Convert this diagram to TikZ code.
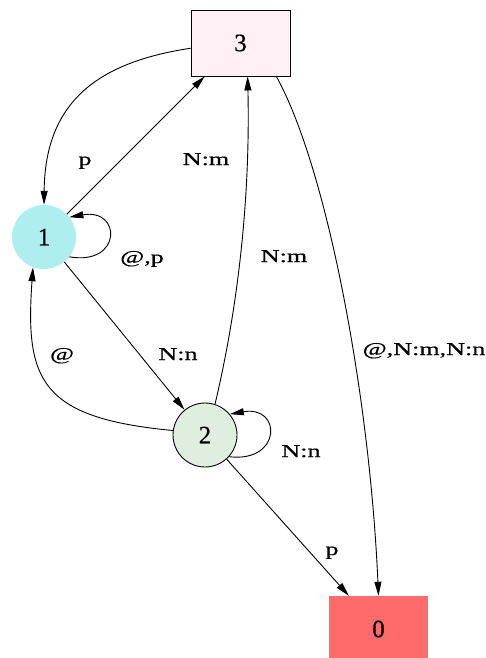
\documentclass[tikz,border=0pt]{standalone}
\usepackage{fontspec}
\setmainfont{Liberation Serif}
\newfontfamily\lblfont[FakeStretch=1.45,FakeBold=0.6]{Liberation Serif}
\newfontfamily\numfont[FakeBold=0.6]{Liberation Serif}
\usetikzlibrary{arrows.meta}
\definecolor{pinkfill}{HTML}{FFF0F5}
\definecolor{turqfill}{HTML}{AFEEEE}
\definecolor{honeyfill}{HTML}{E0EEE0}
\definecolor{redfill}{HTML}{FF6A6A}
\begin{document}
\begin{tikzpicture}[x=1pt,y=-1pt,
  boxnode/.style={rectangle, minimum width=99pt, minimum height=66pt, inner sep=0pt,
    font=\numfont\fontsize{25}{25}\selectfont},
  statenode/.style={circle, minimum size=64pt, inner sep=0pt,
    font=\numfont\fontsize{25}{25}\selectfont},
  edgeline/.style={line width=0.9pt, -{Triangle[length=14pt,width=7pt]}},
  lbl/.style={anchor=base, inner sep=0pt, font=\lblfont\fontsize{18}{18}\selectfont}
]
\useasboundingbox (0,0) rectangle (486,658);
\node[boxnode, draw=black, line width=0.9pt, fill=pinkfill] (n3) at (240.5,43) {3};
\node[statenode, fill=turqfill] (n1) at (44,237) {1};
\node[statenode, draw=black, line width=0.9pt, fill=honeyfill] (n2) at (205,435) {2};
\node[boxnode, fill=redfill] (n0) at (378.5,629) {0};

\draw[edgeline] (n3.186) .. controls (100,62) and (45,100) .. (n1.north);
\draw[edgeline] (n1.45) -- (n3.223);
\draw[edgeline] (n1.-38) .. controls (122,266) and (122,208) .. (n1.38);
\draw[edgeline] (n1) -- (n2);
\draw[edgeline] (n2.172) .. controls (40,418) and (25,380) .. (n1.250);
\draw[edgeline] (n2.72) .. controls (242,290) and (250,180) .. (n3.282);
\draw[edgeline] (n2.-42) .. controls (282,463) and (282,405) .. (n2.40);
\draw[edgeline] (n2) -- (n0);
\draw[edgeline] (n3.-43) .. controls (328,170) and (370,400) .. (n0.north);

\node[lbl] (l13) at (85,165) {p};
\node[lbl] (l31) at (206,165) {N:m};
\node[lbl] (l11) at (142,263) {@,p};
\node[lbl] (l23) at (284,262) {N:m};
\node[lbl] (l21) at (62,360) {@};
\node[lbl] (l12) at (178,360) {N:n};
\node[lbl] (l22) at (301,457) {N:n};
\node[lbl] (l20) at (332,555) {p};
\node[lbl] (l30) at (424,355) {@,N:m,N:n};
\end{tikzpicture}
\end{document}
